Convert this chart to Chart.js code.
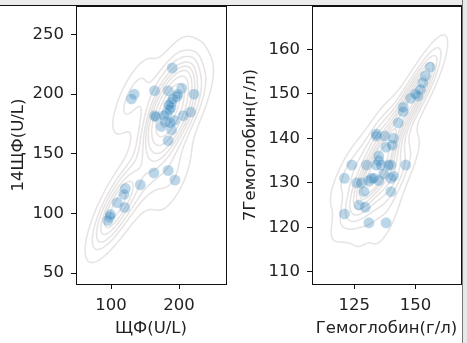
<html>
<head>
    <title>KDE scatter</title>
    <script src="https://cdn.jsdelivr.net/npm/chart.js"></script>
    <style>
        body { margin: 0; background: #fff; }
        #wrap { position: relative; width: 467px; height: 343px; overflow: hidden; background: #fff; }
        canvas { position: absolute; top: 0; }
        #left_chart { left: 0; }
        #right_chart { left: 236px; }
        #topbar { position: absolute; left: 0; top: 0; width: 467px; height: 6px; background: #ececec; border-bottom: 1px solid #111; box-sizing: border-box; z-index: 2; }
        #rightbar { position: absolute; left: 462px; top: 0; width: 5px; height: 343px; background: #e8e8e8; border-left: 1px solid #777; box-sizing: border-box; z-index: 3; }
    </style>
</head>
<body>
<div id="wrap">
    <canvas id="left_chart" width="236" height="343"></canvas>
    <canvas id="right_chart" width="231" height="343"></canvas>
    <div id="topbar"></div>
    <div id="rightbar"></div>
</div>

<script>
    // left panel: ЩФ vs 14ЩФ
    const alp_x = [190, 134, 130, 164, 184, 204, 222, 197, 189, 188, 182, 164, 166, 206, 217, 174, 189, 184,
                   163, 184, 194, 143, 121, 119, 109, 120, 98, 95, 99,
                   186, 191, 185, 180, 193, 198, 178, 187];
    const alp_y = [222, 200, 196, 203, 203, 205, 200, 198, 193, 189, 184, 182, 181, 182, 185, 173, 170, 161,
                   134, 136, 128, 124, 121, 116, 109, 105, 97, 94, 99,
                   187, 196, 191, 177, 178, 200, 182, 176];
    const alp_xticks = [100, 200];
    const alp_yticks = [50, 100, 150, 200, 250];

    // right panel: Гемоглобин vs 7Гемоглобин
    const hb_x = [156, 154, 153, 152, 151, 145, 145, 143, 134, 134, 137.5, 141, 138, 140.5, 135, 135,
                  124, 130, 140, 146, 121, 132, 135, 140, 141, 128, 126, 129, 140, 127, 129.5, 121, 131, 138,
                  134, 136, 131, 139, 133, 148, 150, 137];
    const hb_y = [156, 154, 152.5, 151, 149.5, 147, 146, 143.5, 141, 140.5, 140.5, 140, 138, 138.5, 136, 135,
                  134, 134, 134, 134, 131, 131, 130.5, 131, 131.5, 130, 130, 128, 128, 125, 124.5, 123, 121, 121,
                  134, 134, 130.5, 134, 131, 149, 150, 132];
    const hb_xticks = [125, 150];
    const hb_yticks = [110, 120, 130, 140, 150, 160];

    const font = { family: "DejaVu Sans", size: 16.5 };
    const text_color = "#222";

    // gaussian kde (scott bandwidth), contour lines like seaborn kdeplot
    function kde_grid(xs, ys, size) {
        const n = xs.length;
        const mx = xs.reduce((a, b) => a + b, 0) / n;
        const my = ys.reduce((a, b) => a + b, 0) / n;
        let sxx = 0, syy = 0, sxy = 0;
        for (let i = 0; i < n; i++) {
            sxx += (xs[i] - mx) ** 2;
            syy += (ys[i] - my) ** 2;
            sxy += (xs[i] - mx) * (ys[i] - my);
        }
        const f2 = Math.pow(n, -1 / 3);
        const a = sxx / (n - 1) * f2, d = syy / (n - 1) * f2, b = sxy / (n - 1) * f2;
        const det = a * d - b * b;
        const ia = d / det, id = a / det, ib = -b / det;
        const bx = Math.sqrt(a), by = Math.sqrt(d);
        const x0 = Math.min(...xs) - 3 * bx, x1 = Math.max(...xs) + 3 * bx;
        const y0 = Math.min(...ys) - 3 * by, y1 = Math.max(...ys) + 3 * by;
        const gx = [], gy = [], vals = [];
        for (let i = 0; i < size; i++) {
            gx.push(x0 + (x1 - x0) * i / (size - 1));
            gy.push(y0 + (y1 - y0) * i / (size - 1));
        }
        for (let j = 0; j < size; j++) {
            const row = [];
            for (let i = 0; i < size; i++) {
                let s = 0;
                for (let k = 0; k < n; k++) {
                    const dx = gx[i] - xs[k], dy = gy[j] - ys[k];
                    s += Math.exp(-0.5 * (ia * dx * dx + 2 * ib * dx * dy + id * dy * dy));
                }
                row.push(s);
            }
            vals.push(row);
        }
        const flat = vals.flat().sort((p, q) => q - p);
        const total = flat.reduce((p, q) => p + q, 0);
        const cum = [];
        let c = 0;
        for (const v of flat) { c += v; cum.push(c / total); }
        const levels = [];
        for (let l = 0; l < 10; l++) {
            const iso = 0.05 + 0.95 * l / 9;
            let idx = cum.findIndex(v => v >= 1 - iso);
            if (idx < 0) idx = flat.length - 1;
            levels.push(flat[idx]);
        }
        return { gx, gy, vals, levels };
    }

    const kde_plugin = {
        id: "kde",
        beforeDatasetsDraw(chart) {
            const data = chart.data.datasets[0].data;
            if (!chart.$kde) chart.$kde = kde_grid(data.map(p => p.x), data.map(p => p.y), 110);
            const { gx, gy, vals, levels } = chart.$kde;
            const xs = chart.scales.x, ys = chart.scales.y;
            const area = chart.chartArea;
            const ctx = chart.ctx;
            ctx.save();
            ctx.beginPath();
            ctx.rect(area.left, area.top, area.right - area.left, area.bottom - area.top);
            ctx.clip();
            ctx.strokeStyle = "rgba(205, 200, 198, 0.5)";
            ctx.lineWidth = 1.5;
            for (const lev of levels) {
                ctx.beginPath();
                for (let j = 0; j < gy.length - 1; j++) {
                    for (let i = 0; i < gx.length - 1; i++) {
                        const c = [[gx[i], gy[j], vals[j][i]], [gx[i + 1], gy[j], vals[j][i + 1]],
                                   [gx[i + 1], gy[j + 1], vals[j + 1][i + 1]], [gx[i], gy[j + 1], vals[j + 1][i]]];
                        const pts = [];
                        for (let e = 0; e < 4; e++) {
                            const p = c[e], q = c[(e + 1) % 4];
                            if ((p[2] >= lev) !== (q[2] >= lev)) {
                                const t = (lev - p[2]) / (q[2] - p[2]);
                                pts.push([xs.getPixelForValue(p[0] + t * (q[0] - p[0])),
                                          ys.getPixelForValue(p[1] + t * (q[1] - p[1]))]);
                            }
                        }
                        if (pts.length === 2) {
                            ctx.moveTo(pts[0][0], pts[0][1]); ctx.lineTo(pts[1][0], pts[1][1]);
                        } else if (pts.length === 4) {
                            ctx.moveTo(pts[0][0], pts[0][1]); ctx.lineTo(pts[1][0], pts[1][1]);
                            ctx.moveTo(pts[2][0], pts[2][1]); ctx.lineTo(pts[3][0], pts[3][1]);
                        }
                    }
                }
                ctx.stroke();
            }
            ctx.restore();
        },
        afterDraw(chart) {
            const a = chart.chartArea, ctx = chart.ctx;
            ctx.save();
            ctx.strokeStyle = "#111";
            ctx.lineWidth = 1;
            ctx.strokeRect(Math.round(a.left) + 0.5, Math.round(a.top) + 0.5,
                           Math.round(a.right - a.left), Math.round(a.bottom - a.top));
            ctx.restore();
        }
    };

    function make_chart(id, xs, ys, xticks, yticks, xrange, yrange, xtitle, ytitle, pad_right, ytitle_pad) {
        const points = xs.map((x, i) => ({ x: x, y: ys[i] }));
        return new Chart(document.getElementById(id), {
            type: "scatter",
            data: {
                datasets: [{
                    data: points,
                    pointRadius: 5.5,
                    pointHoverRadius: 5.5,
                    backgroundColor: "rgba(31, 119, 180, 0.3)",
                    borderColor: "rgba(255, 255, 255, 0.3)",
                    borderWidth: 0.5
                }]
            },
            options: {
                responsive: false,
                animation: false,
                events: [],
                layout: { padding: { top: 5, right: pad_right, left: 0, bottom: 0 } },
                plugins: { legend: { display: false }, tooltip: { enabled: false } },
                scales: {
                    x: {
                        type: "linear", min: xrange[0], max: xrange[1],
                        afterBuildTicks: s => { s.ticks = xticks.map(v => ({ value: v })); },
                        afterFit: s => { s.height = 59; s.paddingLeft = 0; s.paddingRight = 0; },
                        ticks: { color: text_color, font: font, padding: 7, maxRotation: 0 },
                        grid: { drawOnChartArea: false, tickLength: 5, color: "#111" },
                        border: { display: false },
                        title: { display: true, text: xtitle, color: text_color, font: font, padding: { top: 0, bottom: 4 } }
                    },
                    y: {
                        type: "linear", min: yrange[0], max: yrange[1],
                        afterBuildTicks: s => { s.ticks = yticks.map(v => ({ value: v })); },
                        afterFit: s => { s.width = 76; s.paddingTop = 0; s.paddingBottom = 0; },
                        ticks: { color: text_color, font: font, padding: 7 },
                        grid: { drawOnChartArea: false, tickLength: 5, color: "#111" },
                        border: { display: false },
                        title: { display: true, text: ytitle, color: text_color, font: font, padding: { top: ytitle_pad, bottom: 0 } }
                    }
                }
            },
            plugins: [kde_plugin]
        });
    }

    make_chart("left_chart", alp_x, alp_y, alp_xticks, alp_yticks, [48.5, 269], [40.8, 274],
               "ЩФ(U/L)", "14ЩФ(U/L)", 10, 9);
    make_chart("right_chart", hb_x, hb_y, hb_xticks, hb_yticks, [107.75, 168.6], [107.25, 169.75],
               "Гемоглобин(г/л)", "7Гемоглобин(г/л)", 5, 5);
</script>
</body>
</html>
